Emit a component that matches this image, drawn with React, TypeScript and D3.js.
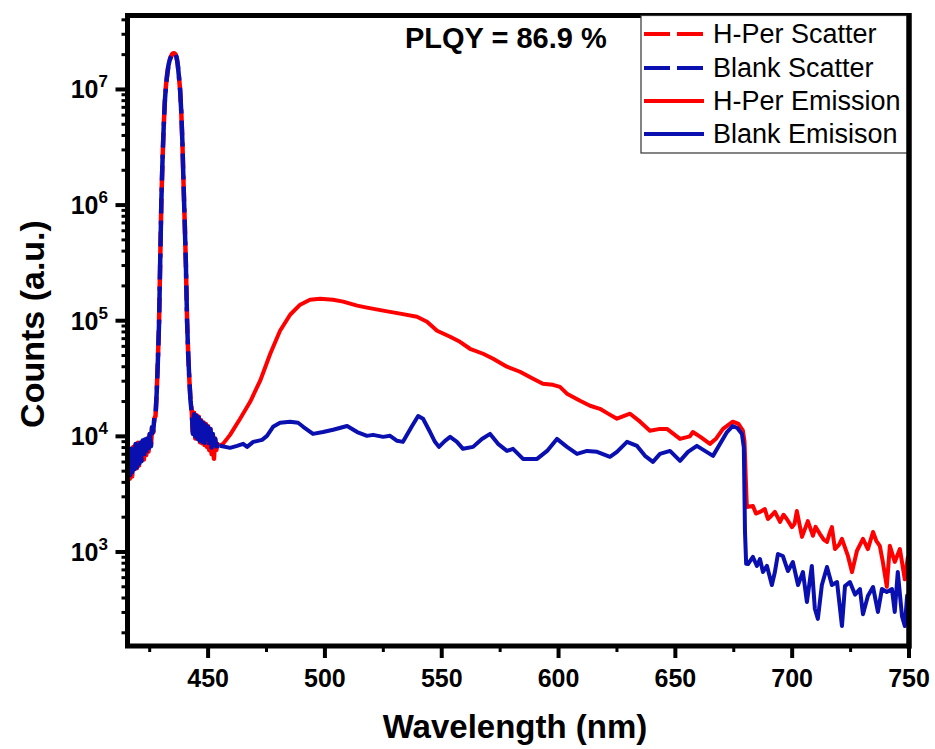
import React from "react";
import * as d3 from "d3";

// ---------- DATA ----------
const scatterWl = [
  415, 415.5, 416, 416.5, 417, 417.5, 418, 418.5, 419, 419.5, 420, 420.5, 421, 421.5, 422, 422.5,
  423, 423.5, 424, 424.5, 425, 425.5, 426, 426.5, 427, 427.5, 428, 428.5, 429, 429.5, 430, 430.5,
  431, 431.5, 432, 432.5, 433, 433.5, 434, 434.5, 435, 435.5, 436, 436.5, 437, 437.5, 438, 438.5,
  439, 439.5, 440, 440.5, 441, 441.5, 442, 442.5, 443, 443.5, 444, 444.5, 445, 445.5, 446, 446.5,
  447, 447.5, 448, 448.5, 449, 449.5, 450, 450.5, 451, 451.5, 452, 452.5, 453, 453.5, 454, 454.5, 455,
];
const blankScatter = [
  7500, 4300, 8000, 4600, 7800, 4900, 8300, 5200, 8600, 5400, 9000, 5800, 8800, 6100, 9200, 6500,
  9400, 7000, 9600, 7600, 10500, 8200, 12000, 11000, 14500, 15000, 24000, 45000, 95000, 330000, 1100000, 2500000,
  4800000, 8000000, 11000000, 13500000, 16000000, 17800000, 19000000, 20000000, 20500000, 20600000, 20200000, 19000000, 16500000, 13000000, 10000000, 6500000,
  3500000, 1500000, 700000, 300000, 100000, 50000, 30000, 20000, 16000, 10500, 15500, 10000, 15000, 9500, 14500, 9200,
  13500, 9000, 13000, 8800, 12500, 8500, 12000, 8300, 11500, 8000, 10500, 7800, 9500, 8200, 8500, 8300, 8200,
];
const hperScatter = [
  7200, 3600, 7800, 4300, 7600, 4500, 8100, 5000, 8400, 5300, 8800, 5600, 8600, 6000, 9000, 6300,
  9300, 6900, 9500, 7400, 10300, 8000, 11800, 10800, 14200, 15000, 24000, 45000, 95000, 330000, 1100000, 2500000,
  4800000, 8000000, 11000000, 13500000, 16000000, 17800000, 19000000, 20000000, 20500000, 20600000, 20200000, 19000000, 16500000, 13000000, 10000000, 6500000,
  3500000, 1500000, 700000, 300000, 100000, 50000, 30000, 20000, 16500, 10000, 16000, 9600, 15200, 9200, 14800, 8900,
  13800, 8700, 13200, 8400, 12800, 8100, 12200, 7600, 11600, 7000, 10700, 6400, 9600, 7600, 8600, 8200, 8300,
];

const hperEmWl = [
  455, 456.4, 459.4, 463.7, 468, 472.3, 476.6, 480.8, 485.1, 489.4, 493.6, 497.9, 503.5, 507.8, 513.8, 518,
  524.9, 532.2, 539.4, 543.7, 548, 553.6, 557.8, 562.1, 567.7, 572, 577.9, 583.5, 589.1, 593.3, 597.6, 600.6,
  603.6, 609.2, 613.5, 617.7, 621, 625, 630.6, 634.9, 639.1, 643.4, 646.4, 652, 656.2, 657.5, 661, 664.8,
  667.5, 670.4, 674.6, 677, 678.9, 679.6, 680.2, 680.6, 683.2, 684.5, 686.2, 688.3, 689.6, 691, 692.6, 694.8,
  696.3, 697.7, 699.9, 701, 702, 704.2, 706.7, 708.9, 710, 711.9, 713.5, 714.9, 716, 717, 718.3, 720,
  721.3, 723.9, 725.6, 727.7, 729, 730.3, 732.4, 734.6, 736, 737.5, 738.8, 740.5, 741.8, 743.9, 746.1, 748.2,
  749.5, 750,
];
const hperEm = [
  8300, 8610, 10300, 14200, 19900, 30300, 51800, 81900, 112700, 137600, 152000, 155000, 152000, 146300, 135000, 129700,
  122200, 115100, 108400, 98100, 81900, 72600, 65700, 57200, 51800, 46900, 40000, 36200, 31500, 28500, 27900, 26800,
  23400, 20300, 18400, 17300, 15800, 14200, 15700, 13400, 11200, 11600, 11600, 9500, 10000, 10900, 9800, 8610,
  9600, 11600, 13400, 12800, 11200, 9000, 4000, 2450, 2500, 2150, 2220, 2350, 1930, 2050, 2220, 1820,
  2100, 1930, 1640, 1750, 2260, 1350, 1850, 1380, 1650, 1430, 1280, 1220, 1450, 1640, 1060, 1150,
  1300, 920, 670, 1020, 1150, 1300, 1060, 1490, 1250, 1130, 820, 500, 1130, 820, 1060, 580,
  900, 800,
];

const blankEmWl = [
  455, 459.4, 462.4, 465, 466.7, 469.3, 473.1, 475.2, 477.8, 480.8, 485.1, 488.5, 490.7, 494.9, 499.2, 503.5,
  509.5, 513.8, 518, 520.6, 524.9, 527.9, 530.9, 533.4, 537.3, 539.9, 542, 545, 547.1, 548.8, 551.4, 553.6,
  556.5, 559.1, 563.4, 567.2, 570.7, 574.1, 577.9, 580.5, 584.8, 590.8, 595.1, 599.3, 603.6, 607.9, 612.2, 616.5,
  622, 625, 629.3, 633.6, 637, 640.4, 643.4, 647.7, 652, 655.4, 659.2, 666.1, 672.1, 674.6, 676.5, 678.5,
  679.3, 679.8, 680.3, 681.1, 683.2, 684.9, 686.2, 687.5, 689.2, 691.3, 692.6, 693.9, 696, 698.2, 700.3, 702.5,
  704.6, 706.3, 708.4, 709.7, 711, 712.7, 714.9, 717, 719.2, 721.3, 722.6, 724.7, 726.9, 729, 730.3, 732.4,
  734.6, 736.7, 738.4, 740.5, 742.7, 743.9, 745.2, 747, 748.2, 749.2, 750,
];
const blankEm = [
  8300, 7950, 8270, 8610, 8110, 8960, 9330, 10100, 12100, 13100, 13400, 13100, 12100, 10500, 10900, 11400,
  12300, 10900, 10100, 10300, 9900, 10100, 9150, 8960, 12300, 15000, 14200, 10900, 8960, 8110, 9150, 9900,
  8960, 7800, 8110, 9500, 10500, 8610, 7480, 7800, 6380, 6380, 7480, 9500, 8110, 7050, 7480, 7350,
  6650, 7350, 8960, 8270, 6780, 6010, 7050, 7480, 6140, 7350, 8270, 6780, 10900, 12300, 11800, 10500,
  8000, 1500, 790, 787, 906, 757, 869, 671, 757, 518, 671, 961, 923, 684, 818, 518,
  671, 369, 757, 323, 264, 518, 741, 518, 550, 229, 507, 550, 428, 478, 290, 416,
  498, 303, 478, 451, 478, 303, 671, 279, 229, 420, 300,
];

const xMajorTicks = [450, 500, 550, 600, 650, 700, 750];
const xMinorTicks = [425, 475, 525, 575, 625, 675, 725];
const yMajorExp = [3, 4, 5, 6, 7];
const seriesNames = ["H-Per Scatter", "Blank Scatter", "H-Per Emission", "Blank Emisison"];
const plqyLabel = "PLQY = 86.9 %";

// ---------- COMPONENT ----------
const RED = "#ff0000";
const BLUE = "#0a0fb0";
const FONT = "'Liberation Sans', Arial, Helvetica, sans-serif";

export default function App() {
  const W = 935;
  const H = 749;
  const left = 127.5, right = 909, top = 15.5, bottom = 646;
  const x = d3.scaleLinear().domain([415.5, 750]).range([left, right]);
  const y = d3.scaleLog().domain([153.8, 4.36e7]).range([bottom, top]);

  const line = d3
    .line<[number, number]>()
    .x((d) => x(d[0]))
    .y((d) => y(d[1]));

  const zip = (a: number[], b: number[]) => a.map((v, i) => [v, b[i]] as [number, number]);

  const yMinor: number[] = [];
  for (let e = 2; e <= 7; e++) {
    for (let k = 2; k <= 9; k++) {
      const v = k * Math.pow(10, e);
      if (v > 153.8 && v < 4.36e7) yMinor.push(v);
    }
  }

  const dash = "26 7";
  const legendX = 641;
  const legendRows = [43, 77, 110, 143];

  return (
    <svg
      width={W}
      height={H}
      style={{ position: "absolute", left: 0, top: 0, background: "#fff" }}
      fontFamily={FONT}
    >
      <rect x={0} y={0} width={W} height={H} fill="#fff" />
      <defs>
        <clipPath id="plot">
          <rect x={left} y={top} width={right - left} height={bottom - top} />
        </clipPath>
      </defs>

      <g clipPath="url(#plot)" fill="none" strokeLinejoin="round">
        <path d={line(zip(scatterWl, hperScatter)) || ""} stroke={RED} strokeWidth={4.5} strokeDasharray={dash} strokeDashoffset={13} />
        <path d={line(zip(scatterWl, blankScatter)) || ""} stroke={BLUE} strokeWidth={4.5} strokeDasharray={dash} />
        <path d={line(zip(hperEmWl, hperEm)) || ""} stroke={RED} strokeWidth={4} />
        <path d={line(zip(blankEmWl, blankEm)) || ""} stroke={BLUE} strokeWidth={4} />
      </g>

      {/* frame */}
      <rect x={left} y={top} width={right - left} height={bottom - top} fill="none" stroke="#000" strokeWidth={5} />

      {/* x ticks */}
      {xMajorTicks.map((t) => (
        <g key={"xm" + t}>
          <line x1={x(t)} x2={x(t)} y1={bottom} y2={bottom + 12} stroke="#000" strokeWidth={4} />
          <text x={x(t)} y={687} textAnchor="middle" fontSize={25} fontWeight="bold">
            {t}
          </text>
        </g>
      ))}
      {xMinorTicks.map((t) => (
        <line key={"xn" + t} x1={x(t)} x2={x(t)} y1={bottom} y2={bottom + 6} stroke="#000" strokeWidth={3} />
      ))}

      {/* y ticks */}
      {yMajorExp.map((e) => {
        const v = Math.pow(10, e);
        return (
          <g key={"ym" + e}>
            <line x1={left - 12} x2={left} y1={y(v)} y2={y(v)} stroke="#000" strokeWidth={4} />
            <text x={108} y={y(v) + 9} textAnchor="end" fontSize={25} fontWeight="bold">
              10
              <tspan dy={-11} fontSize={17}>
                {e}
              </tspan>
            </text>
          </g>
        );
      })}
      {yMinor.map((v, i) => (
        <line key={"yn" + i} x1={left - 6} x2={left} y1={y(v)} y2={y(v)} stroke="#000" strokeWidth={3} />
      ))}

      {/* axis titles */}
      <text x={515} y={738} textAnchor="middle" fontSize={33} fontWeight="bold">
        Wavelength (nm)
      </text>
      <text
        transform={`translate(44, 324) rotate(-90)`}
        textAnchor="middle"
        fontSize={34}
        fontWeight="bold"
      >
        Counts (a.u.)
      </text>

      {/* PLQY label */}
      <text x={405} y={48} fontSize={29} fontWeight="bold">
        {plqyLabel}
      </text>

      {/* legend */}
      <rect x={legendX} y={top} width={right - legendX - 2} height={153 - top} fill="#fff" stroke="#333" strokeWidth={1.2} />
      {seriesNames.map((name, i) => {
        const ly = legendRows[i] - 9;
        const color = i % 2 === 0 ? RED : BLUE;
        const dashed = i < 2;
        return (
          <g key={name}>
            <line
              x1={legendX + 3}
              x2={legendX + 63}
              y1={ly}
              y2={ly}
              stroke={color}
              strokeWidth={4}
              strokeDasharray={dashed ? dash : undefined}
            />
            <text x={legendX + 72} y={legendRows[i]} fontSize={27}>
              {name}
            </text>
          </g>
        );
      })}
      <line x1={right} x2={right} y1={top - 2.5} y2={bottom + 2.5} stroke="#000" strokeWidth={5} />
    </svg>
  );
}
